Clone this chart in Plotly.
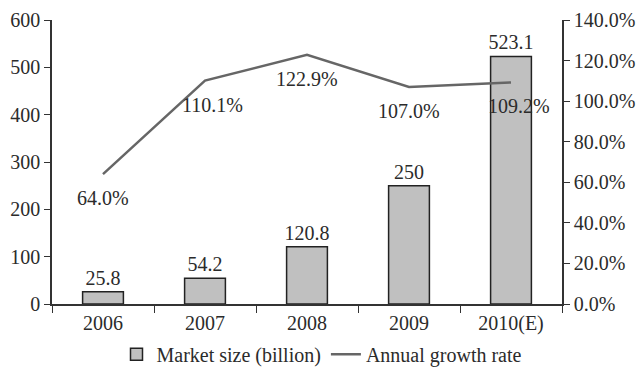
import plotly.graph_objects as go

years = ["2006", "2007", "2008", "2009", "2010(E)"]
market_size = [25.8, 54.2, 120.8, 250, 523.1]
growth_rate = [64.0, 110.1, 122.9, 107.0, 109.2]
growth_label_xshift = [0, 7, 0, 0, 8]

FONT = dict(family="Liberation Serif, Times New Roman, serif", size=20, color="#2b2b2b")
AXIS_COLOR = "#333333"

fig = go.Figure()

fig.add_trace(go.Bar(
    x=years, y=market_size, name="Market size (billion)",
    width=0.4,
    marker=dict(color="#c0c0c0", line=dict(color="#222222", width=1.5)),
    text=[f"{v:g}" for v in market_size], textposition="outside",
    textfont=FONT, cliponaxis=False, constraintext="none",
))

fig.add_trace(go.Scatter(
    x=years, y=growth_rate, name="Annual growth rate", yaxis="y2",
    mode="lines", line=dict(color="#666666", width=2.5),
))

# growth labels sit just below each point of the line (category index positions)
for i, (v, dx) in enumerate(zip(growth_rate, growth_label_xshift)):
    fig.add_annotation(x=i, xref="x", y=v, yref="y2", text=f"{v:.1f}%",
                       showarrow=False, yshift=-24, xshift=dx, font=FONT)

fig.update_layout(
    width=644, height=369,
    margin=dict(l=52, r=82, t=20, b=65, autoexpand=False),
    plot_bgcolor="white", paper_bgcolor="white",
    font=FONT,
    showlegend=True,
    legend=dict(orientation="h", x=0.5, xanchor="center", xref="container",
                y=0.04, yanchor="middle", yref="container",
                font=FONT, traceorder="normal", itemwidth=30,
                tracegroupgap=0),
    xaxis=dict(
        type="category", categoryorder="array", categoryarray=years,
        range=[-0.5, len(years) - 0.5],
        showline=True, linecolor=AXIS_COLOR, linewidth=1.5,
        ticks="outside", tickson="boundaries", ticklen=7, tickcolor=AXIS_COLOR,
        tickfont=FONT, showgrid=False, tickangle=0,
    ),
    yaxis=dict(
        range=[0, 600], dtick=100, showline=True, linecolor=AXIS_COLOR, linewidth=1.5,
        ticks="outside", ticklen=6, tickcolor=AXIS_COLOR, tickfont=FONT,
        showgrid=False, zeroline=False,
    ),
    yaxis2=dict(
        range=[0, 140], dtick=20, overlaying="y", side="right",
        showline=True, linecolor=AXIS_COLOR, linewidth=1.5,
        ticks="outside", ticklen=6, tickcolor=AXIS_COLOR, tickfont=FONT,
        tickformat=".1f", ticksuffix="%", showgrid=False, zeroline=False,
    ),
)

fig.write_html("out.html")
